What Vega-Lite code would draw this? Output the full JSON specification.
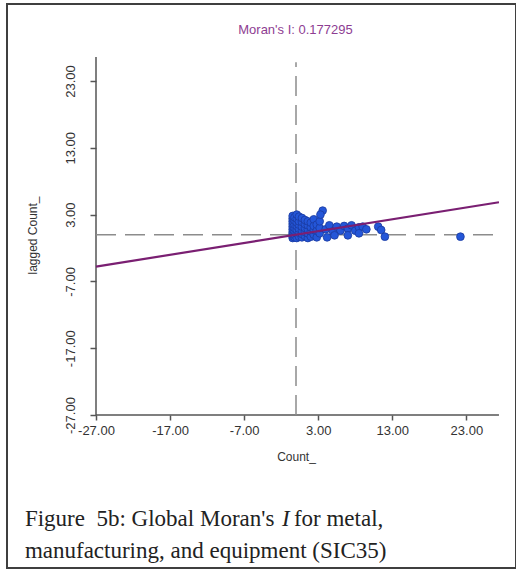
{
  "$schema": "https://vega.github.io/schema/vega-lite/v6.json",
  "autosize": {"type": "none"},
  "padding": {"left": 7, "top": 4, "right": 0, "bottom": 3},
  "width": 509,
  "height": 564,
  "background": "white",
  "config": {
    "view": {"stroke": "#3f3f3f", "strokeWidth": 2},
    "font": "Liberation Sans"
  },
  "title": {
    "text": "Moran's I: 0.177295",
    "orient": "top",
    "anchor": "middle",
    "frame": "group",
    "offset": -33,
    "dx": 34,
    "fontSize": 13,
    "fontWeight": "normal",
    "color": "#8e3d92",
    "font": "Liberation Sans"
  },
  "datasets": {
    "points": [
      {"x": -0.45, "y": -0.5}, {"x": -0.45, "y": -0.2}, {"x": -0.45, "y": 0.1}, {"x": -0.45, "y": 0.4}, {"x": -0.45, "y": 0.8},
      {"x": -0.45, "y": 1.2}, {"x": -0.45, "y": 1.6}, {"x": -0.45, "y": 2.0}, {"x": -0.45, "y": 2.4}, {"x": -0.45, "y": 2.8},
      {"x": -0.2, "y": -0.4}, {"x": -0.2, "y": 0.0}, {"x": -0.2, "y": 0.5}, {"x": -0.2, "y": 1.0}, {"x": -0.2, "y": 1.5},
      {"x": -0.2, "y": 2.1}, {"x": -0.2, "y": 2.6}, {"x": 0.1, "y": -0.5}, {"x": 0.1, "y": 0.2}, {"x": 0.1, "y": 0.7},
      {"x": 0.1, "y": 1.3}, {"x": 0.1, "y": 1.8}, {"x": 0.1, "y": 2.4}, {"x": 0.1, "y": 3.0}, {"x": 0.4, "y": -0.3},
      {"x": 0.4, "y": 0.3}, {"x": 0.4, "y": 0.9}, {"x": 0.4, "y": 1.5}, {"x": 0.4, "y": 2.0}, {"x": 0.4, "y": 2.7},
      {"x": 0.8, "y": -0.4}, {"x": 0.8, "y": 0.1}, {"x": 0.8, "y": 0.6}, {"x": 0.8, "y": 1.2}, {"x": 0.8, "y": 1.9},
      {"x": 0.8, "y": 2.5}, {"x": 1.2, "y": -0.2}, {"x": 1.2, "y": 0.4}, {"x": 1.2, "y": 1.0}, {"x": 1.2, "y": 1.6},
      {"x": 1.2, "y": 2.2}, {"x": 1.6, "y": -0.5}, {"x": 1.6, "y": 0.2}, {"x": 1.6, "y": 0.8}, {"x": 1.6, "y": 1.4},
      {"x": 1.6, "y": 2.0}, {"x": 2.0, "y": -0.3}, {"x": 2.0, "y": 0.5}, {"x": 2.0, "y": 1.1}, {"x": 2.0, "y": 1.8},
      {"x": 2.4, "y": 0.0}, {"x": 2.4, "y": 0.7}, {"x": 2.4, "y": 1.3}, {"x": 2.4, "y": 2.3}, {"x": 2.8, "y": -0.4},
      {"x": 2.8, "y": 0.6}, {"x": 2.8, "y": 1.5}, {"x": 3.2, "y": 0.2}, {"x": 3.2, "y": 1.0}, {"x": 3.2, "y": 2.0},
      {"x": 3.6, "y": 3.6}, {"x": 3.3, "y": 3.0}, {"x": 4.0, "y": 0.8}, {"x": 4.5, "y": 1.4}, {"x": 5.0, "y": 0.5},
      {"x": 5.5, "y": 1.2}, {"x": 6.0, "y": 0.6}, {"x": 6.5, "y": 1.3}, {"x": 7.0, "y": 0.9}, {"x": 7.5, "y": 1.4},
      {"x": 8.0, "y": 0.6}, {"x": 8.5, "y": 1.1}, {"x": 9.0, "y": 1.2}, {"x": 9.5, "y": 0.8}, {"x": 4.2, "y": -0.4},
      {"x": 5.2, "y": -0.1}, {"x": 7.0, "y": -0.1}, {"x": 8.5, "y": 0.2}, {"x": 11.1, "y": 1.2}, {"x": 11.5, "y": 0.7},
      {"x": 12.0, "y": -0.3}, {"x": 22.2, "y": -0.3}
    ],
    "regline": [{"x": -27, "y": -4.787}, {"x": 27.4, "y": 4.858}],
    "axislines": [
      {"x": -27, "x2": 27.4, "y": -27, "y2": -27},
      {"x": -27, "x2": -27, "y": -27, "y2": 26.6}
    ],
    "dashes": [
      {"x": -27, "x2": 27.4, "y": 0, "y2": 0},
      {"x": 0, "x2": 0, "y": -27, "y2": 25.8}
    ],
    "caption1": [{"x": -36.6, "y": -43.6, "a": "Figure \u00a05b: Global Moran's", "b": "I", "c": "for metal,"}],
    "caption2": [{"x": -36.6, "y": -48.4, "t": "manufacturing, and equipment (SIC35)"}]
  },
  "encoding": {
    "x": {
      "field": "x", "type": "quantitative",
      "scale": {"domain": [-39.015, 29.7], "nice": false, "zero": false},
      "axis": {
        "orient": "bottom", "offset": -153, "domain": false, "grid": false,
        "values": [-27, -17, -7, 3, 13, 23],
        "labelExpr": "replace(format(datum.value, '.2f'), '\u2212', '-')",
        "ticks": true, "tickSize": 5, "tickColor": "#555", "tickWidth": 1.5,
        "labelFontSize": 13, "labelColor": "#333", "labelPadding": 4, "labelFont": "Liberation Sans",
        "title": "Count_", "titleFontSize": 12, "titleFontWeight": "normal", "titleColor": "#333",
        "titlePadding": 14, "titleX": 289, "titleFont": "Liberation Sans"
      }
    },
    "y": {
      "field": "y", "type": "quantitative",
      "scale": {"domain": [-49.9, 34.53], "nice": false, "zero": false},
      "axis": {
        "orient": "left", "offset": -89, "domain": false, "grid": false,
        "values": [-27, -17, -7, 3, 13, 23],
        "labelExpr": "replace(format(datum.value, '.2f'), '\u2212', '-')",
        "ticks": true, "tickSize": 6, "tickColor": "#555", "tickWidth": 1.5,
        "labelFontSize": 13, "labelColor": "#333", "labelPadding": 13, "labelFont": "Liberation Sans",
        "labelAngle": 270, "labelAlign": "center", "labelBaseline": "bottom",
        "title": "lagged Count_", "titleFontSize": 12, "titleFontWeight": "normal", "titleColor": "#333",
        "titlePadding": 25, "titleY": 231, "titleFont": "Liberation Sans"
      }
    }
  },
  "layer": [
    {
      "data": {"name": "axislines"},
      "mark": {"type": "rule", "color": "#555", "strokeWidth": 1.5},
      "encoding": {"x2": {"field": "x2"}, "y2": {"field": "y2"}}
    },
    {
      "data": {"name": "dashes"},
      "mark": {"type": "rule", "color": "#8c8c8c", "strokeWidth": 1.5, "strokeDash": [20, 9]},
      "encoding": {"x2": {"field": "x2"}, "y2": {"field": "y2"}}
    },
    {
      "data": {"name": "points"},
      "mark": {"type": "point", "filled": true, "size": 60, "color": "#2456d8", "stroke": "#1b3a9e", "strokeWidth": 0.8, "opacity": 1}
    },
    {
      "data": {"name": "regline"},
      "mark": {"type": "line", "color": "#7a1f72", "strokeWidth": 2.2},
      "encoding": {}
    },
    {
      "data": {"name": "caption1"},
      "mark": {"type": "text", "align": "left", "baseline": "alphabetic", "font": "Liberation Serif", "fontSize": 23, "color": "#222"},
      "encoding": {"text": {"field": "a"}}
    },
    {
      "data": {"name": "caption1"},
      "mark": {"type": "text", "align": "left", "baseline": "alphabetic", "font": "Liberation Serif", "fontSize": 23, "fontStyle": "italic", "color": "#222", "dx": 257},
      "encoding": {"text": {"field": "b"}}
    },
    {
      "data": {"name": "caption1"},
      "mark": {"type": "text", "align": "left", "baseline": "alphabetic", "font": "Liberation Serif", "fontSize": 23, "color": "#222", "dx": 269},
      "encoding": {"text": {"field": "c"}}
    },
    {
      "data": {"name": "caption2"},
      "mark": {"type": "text", "align": "left", "baseline": "alphabetic", "font": "Liberation Serif", "fontSize": 23, "color": "#222"},
      "encoding": {"text": {"field": "t"}}
    }
  ]
}
